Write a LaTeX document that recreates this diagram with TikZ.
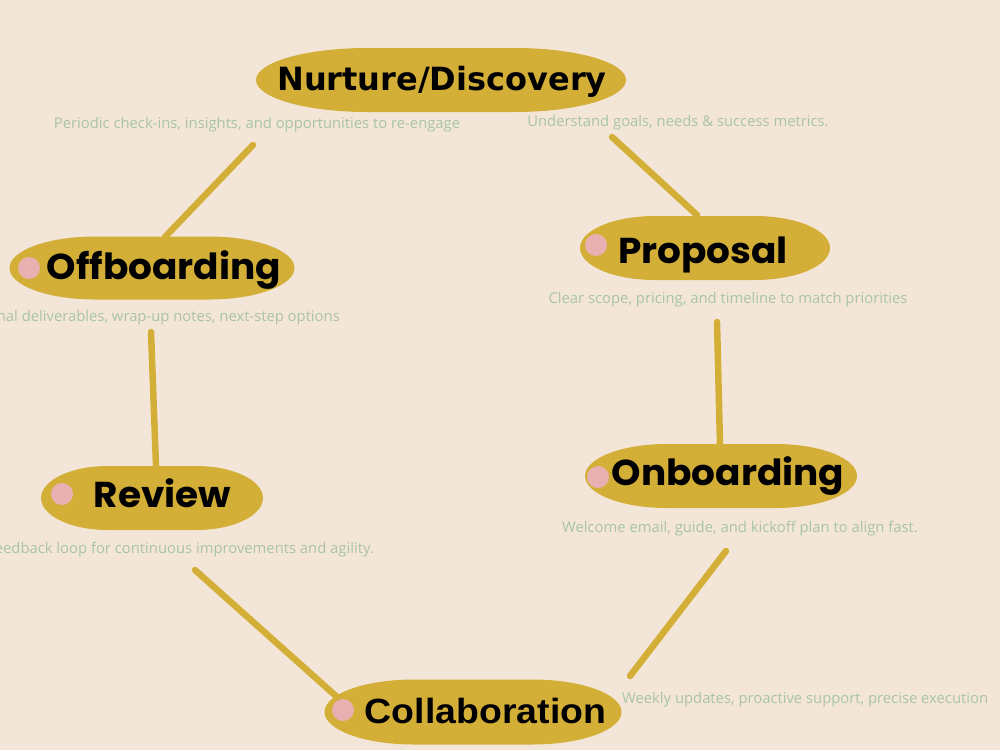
\documentclass[tikz,border=0pt]{standalone}
\usepackage{fontspec}
\setmainfont{Open Sans}
\newfontfamily\stagefont{Poppins}[UprightFont=* Bold, FakeStretch=1.04]
\newfontfamily\headfont{DejaVu Sans}[UprightFont=* Bold]
\newfontfamily\widefont{Liberation Sans}[UprightFont=* Bold, FakeStretch=1.07]
\definecolor{paper}{HTML}{F3E6D9}
\definecolor{gold}{HTML}{D4AF37}
\definecolor{rose}{HTML}{E8B0B0}
\definecolor{sage}{HTML}{A9C4A3}
\tikzset{
  x=1pt, y=-1pt,
  pillbox/.style={rectangle, inner sep=0pt},
  dot/.style={circle, fill=rose, minimum size=22pt, inner sep=0pt},
  stage/.style={font=\stagefont\fontsize{36}{40}\selectfont, text=black, inner sep=0pt, anchor=base},
  note/.style={font=\fontsize{14.8}{17}\selectfont, text=sage, inner sep=0pt, anchor=base},
  link/.style={draw=gold, line width=6.5pt, line cap=round},
}
% a gold pill with flat top and bottom and elliptic ends:
% name, centre x, centre y, width, height
\newcommand\goldpill[5]{%
  \node[pillbox, minimum width=#4pt, minimum height=#5pt] (#1) at (#2,#3) {};
  \pgfmathsetmacro\pillend{0.3*#4}%
  \fill[gold] (#2-#4/2+\pillend,#3-#5/2) -- (#2+#4/2-\pillend,#3-#5/2)
    arc[start angle=90, end angle=-90, x radius=\pillend pt, y radius=#5/2*1pt]
    -- (#2-#4/2+\pillend,#3+#5/2)
    arc[start angle=270, end angle=90, x radius=\pillend pt, y radius=#5/2*1pt]
    -- cycle;}
\begin{document}
\begin{tikzpicture}
\useasboundingbox (0,0) rectangle (1000,750);
\clip (0,0) rectangle (1000,750);
\fill[paper] (0,0) rectangle (1000,750);

% connector end points
\coordinate (n1) at (253,145); \coordinate (off1) at (165,237);
\coordinate (n2) at (612,137); \coordinate (pro1) at (697,215);
\coordinate (pro2) at (717,322); \coordinate (onb1) at (720,445);
\coordinate (onb2) at (726,551); \coordinate (col1) at (630,676);
\coordinate (off2) at (151,332); \coordinate (rev1) at (156,466);
\coordinate (rev2) at (195,570); \coordinate (col2) at (337,697);

\draw[link] (n1) -- (off1);
\draw[link] (n2) -- (pro1);
\draw[link] (pro2) -- (onb1);
\draw[link] (onb2) -- (col1);
\draw[link] (off2) -- (rev1);
\draw[link] (rev2) -- (col2);

% stage pills
\goldpill{nurture}{441}{80}{370}{64}
\goldpill{offb}{152}{268}{285}{63}
\goldpill{prop}{705}{248}{250}{64}
\goldpill{onb}{721}{476}{272}{64}
\goldpill{rev}{152}{498}{222}{64}
\goldpill{coll}{473}{712}{297}{65}

% markers
\node[dot] (doff) at (29,268) {};
\node[dot] (dprop) at (596,245) {};
\node[dot] (donb) at (598,477) {};
\node[dot] (drev) at (62,494) {};
\node[dot] (dcoll) at (343,710) {};

% stage titles
\node[stage, font=\headfont\fontsize{32}{36}\selectfont] (tnur) at (442,90) {Nurture/Discovery};
\node[stage] (toff) at (164,279) {Offboarding};
\node[stage] (tprop) at (703,263) {Proposal};
\node[stage] (tonb) at (728,485) {Onboarding};
\node[stage] (trev) at (162.5,507) {Review};
\node[stage, font=\widefont\fontsize{35}{40}\selectfont] (tcoll) at (485.5,723) {Collaboration};

% descriptions
\node[note] (dnur1) at (257,128) {Periodic check-ins, insights, and opportunities to re-engage};
\node[note] (dnur2) at (678,126) {Understand goals, needs \& success metrics.};
\node[note, anchor=base east] (doffb) at (340,321) {Final deliverables, wrap-up notes, next-step options};
\node[note] (dprp) at (728,303) {Clear scope, pricing, and timeline to match priorities};
\node[note] (donbd) at (740,532) {Welcome email, guide, and kickoff plan to align fast.};
\node[note, anchor=base east] (drevd) at (374,553) {Feedback loop for continuous improvements and agility.};
\node[note, anchor=base west] (dcold) at (622,703) {Weekly updates, proactive support, precise execution};
\end{tikzpicture}
\end{document}
